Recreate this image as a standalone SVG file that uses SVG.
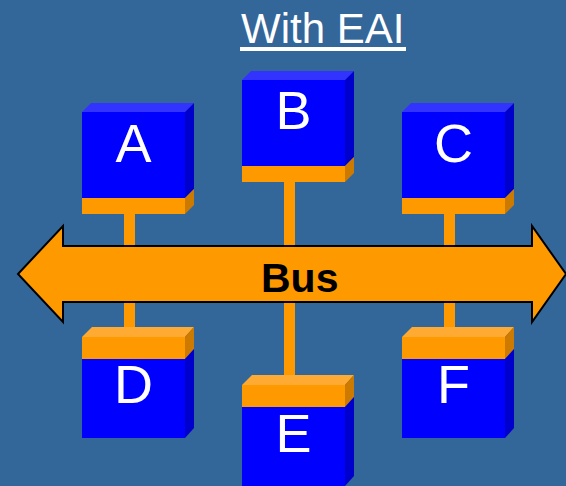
<svg xmlns="http://www.w3.org/2000/svg" xmlns:xlink="http://www.w3.org/1999/xlink" width="566" height="486" viewBox="0 0 566 486">
  <style>
    .lbl { font-family: "Liberation Sans", Arial, sans-serif; font-size: 54px; fill: #FFFFFF; text-anchor: middle; }
    .title { font-family: "Liberation Sans", Arial, sans-serif; font-size: 42px; fill: #FFFFFF; }
    .bus { font-family: "Liberation Sans", Arial, sans-serif; font-size: 41px; font-weight: bold; fill: #000000; }
    .stem { fill: #FF9900; }
    .bf { fill: #0000FF; }
    .bt { fill: #3333FF; }
    .bs { fill: #0000CC; }
    .of { fill: #FF9900; }
    .ot { fill: #FFAA33; }
    .os { fill: #CC7A00; }
  </style>
  <defs>
    <g id="boxTop">
      <polygon class="bt" points="0,0 9,-9 112,-9 103,0"/>
      <rect class="bf" x="0" y="0" width="103" height="86"/>
      <rect class="of" x="0" y="86" width="103" height="16"/>
      <polygon class="bs" points="103,0 112,-9 112,77 103,86"/>
      <polygon class="os" points="103,86 112,77 112,93 103,102"/>
    </g>
    <g id="boxBottom">
      <polygon class="ot" points="0,0 10,-10 112,-10 103,0"/>
      <rect class="of" x="0" y="0" width="103" height="22"/>
      <rect class="bf" x="0" y="22" width="103" height="79"/>
      <polygon class="os" points="103,0 112,-10 112,12 103,22"/>
      <polygon class="bs" points="103,22 112,12 112,91 103,101"/>
    </g>
  </defs>

  <rect x="0" y="0" width="566" height="486" fill="#336699"/>

  <g id="title">
    <text class="title" x="241" y="43">With EAI</text>
    <rect x="240" y="47" width="166" height="4" fill="#FFFFFF"/>
  </g>

  <g id="connectors">
    <rect class="stem" x="124" y="210" width="11" height="38"/>
    <rect class="stem" x="284" y="180" width="11" height="68"/>
    <rect class="stem" x="444" y="210" width="11" height="38"/>
    <rect class="stem" x="124" y="300" width="11" height="32"/>
    <rect class="stem" x="284" y="300" width="11" height="80"/>
    <rect class="stem" x="444" y="300" width="11" height="32"/>
  </g>

  <g id="bus">
    <polygon points="18,274 63,226 63,246 532,246 532,226 566,274 532,322 532,302 63,302 63,322" fill="#FF9900" stroke="#000000" stroke-width="2" stroke-linejoin="miter"/>
    <text class="bus" x="261" y="292">Bus</text>
  </g>

  <g id="nodeA">
    <use xlink:href="#boxTop" href="#boxTop" transform="translate(82,112)"/>
    <text class="lbl" x="133.5" y="162">A</text>
  </g>
  <g id="nodeB">
    <use xlink:href="#boxTop" href="#boxTop" transform="translate(242,80)"/>
    <text class="lbl" x="293.5" y="129">B</text>
  </g>
  <g id="nodeC">
    <use xlink:href="#boxTop" href="#boxTop" transform="translate(402,112)"/>
    <text class="lbl" x="453.5" y="162">C</text>
  </g>
  <g id="nodeD">
    <use xlink:href="#boxBottom" href="#boxBottom" transform="translate(82,337)"/>
    <text class="lbl" x="133.5" y="403">D</text>
  </g>
  <g id="nodeE">
    <use xlink:href="#boxBottom" href="#boxBottom" transform="translate(242,385)"/>
    <text class="lbl" x="293.5" y="452">E</text>
  </g>
  <g id="nodeF">
    <use xlink:href="#boxBottom" href="#boxBottom" transform="translate(402,337)"/>
    <text class="lbl" x="453.5" y="403">F</text>
  </g>
</svg>
